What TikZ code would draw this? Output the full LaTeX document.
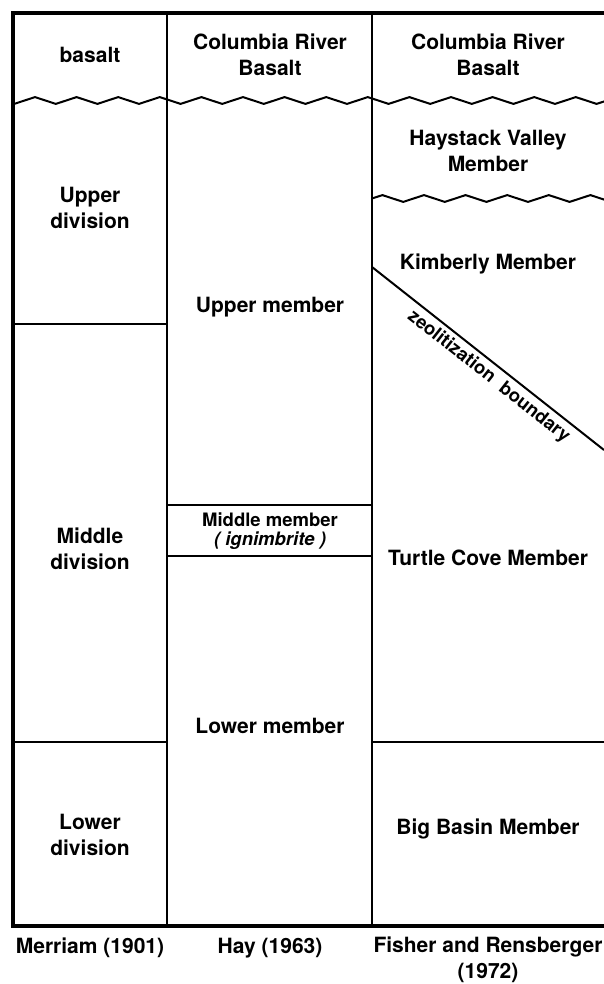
\documentclass[tikz,border=0pt]{standalone}
\usepackage{fontspec}
\setmainfont{TeX Gyre Heros}
\usetikzlibrary{decorations.pathmorphing}

\begin{document}
\begin{tikzpicture}[x=1pt, y=-1pt]
	\tikzstyle{frame} = [line width=4pt]
	\tikzstyle{rule} = [line width=2pt]
	\tikzstyle{wavy} = [line width=2pt, decorate, decoration={zigzag, segment length=41.6pt, amplitude=3.4pt}]
	\tikzstyle{unit} = [align=center, inner sep=0pt, font=\fontsize{21}{26}\selectfont\bfseries]
	\tikzstyle{small} = [align=center, inner sep=0pt, font=\fontsize{18.5}{19.5}\selectfont\bfseries]
	\useasboundingbox (0,0) rectangle (604,984);
	% frame and columns
	\draw[frame] (604,13) -- (13,13) -- (13,926) -- (604,926);
	\draw[rule] (167,13) -- (167,926);
	\draw[rule] (372,13) -- (372,926);
	\draw[rule] (13,324) -- (167,324);
	\draw[rule] (13,742) -- (167,742);
	\draw[rule] (167,505) -- (372,505);
	\draw[rule] (167,556) -- (372,556);
	\draw[rule] (372,742) -- (604,742);
	% unconformities
	\begin{scope}
		\clip (13,0) rectangle (604,984);
		\draw[wavy] (-17,100.5) -- (640,100.5);
		\draw[wavy] (372,198.5) -- (640,198.5);
	\end{scope}
	\draw[rule] (372,267) -- (604,450) node[pos=0.54, below, sloped, inner sep=4pt, font=\fontsize{18.5}{20}\selectfont\bfseries]{zeolitization\ \ boundary};
	% Merriam
	\node[unit] (basalt) at (90,55) {basalt};
	\node[unit] (upperdiv) at (90,208) {Upper\\division};
	\node[unit] (middiv) at (90,549) {Middle\\division};
	\node[unit] (lowdiv) at (90,835) {Lower\\division};
	% Hay
	\node[unit] (crbhay) at (270,55) {Columbia River\\Basalt};
	\node[unit] (uppermem) at (270,307) {Upper member};
	\node[small] (midmem) at (270,531) {Middle member\\\textit{( ignimbrite )}};
	\node[unit] (lowmem) at (270,726) {Lower member};
	% Fisher and Rensberger
	\node[unit] (crbfisher) at (488,55) {Columbia River\\Basalt};
	\node[unit] (haystack) at (488,151) {Haystack Valley\\Member};
	\node[unit] (kimberly) at (488,264) {Kimberly Member};
	\node[unit] (turtle) at (488,558) {Turtle Cove Member};
	\node[unit] (bigbasin) at (488,829) {Big Basin Member};
	% sources
	\node[unit] (merriam) at (90,948) {Merriam (1901)};
	\node[unit] (hay) at (270,948) {Hay (1963)};
	\node[unit] (fisher) at (488,960) {Fisher and Rensberger\\(1972)};
\end{tikzpicture}
\end{document}
